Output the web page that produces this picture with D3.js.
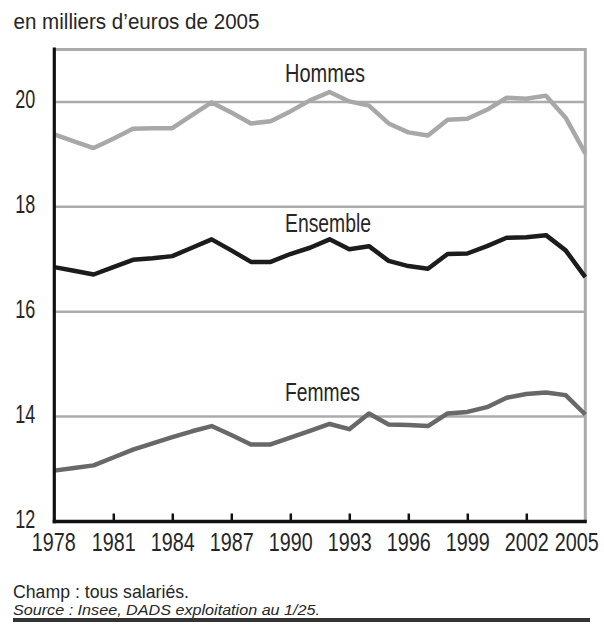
<!DOCTYPE html>
<html><head><meta charset="utf-8">
<script src="https://cdn.jsdelivr.net/npm/d3@7"></script>
<style>
body{margin:0;background:#fff;}
text{font-family:"Liberation Sans",Arial,sans-serif;fill:#262626;}
</style></head>
<body><svg id="c" width="604" height="632"></svg>
<script>
const years = d3.range(1978, 2006);
const hommes   = [19.38,19.25,19.12,19.30,19.49,19.50,19.50,19.75,19.99,19.80,19.59,19.63,19.82,20.03,20.19,20.01,19.93,19.59,19.42,19.36,19.66,19.68,19.85,20.08,20.06,20.12,19.70,19.02];
const ensemble = [16.85,16.78,16.71,16.85,16.99,17.02,17.06,17.22,17.38,17.17,16.95,16.95,17.10,17.22,17.38,17.19,17.25,16.97,16.87,16.82,17.10,17.11,17.25,17.41,17.42,17.46,17.17,16.66];
const femmes   = [12.97,13.02,13.07,13.22,13.37,13.49,13.61,13.72,13.82,13.65,13.47,13.47,13.60,13.73,13.86,13.76,14.06,13.85,13.84,13.82,14.06,14.09,14.18,14.36,14.43,14.46,14.41,14.04];
const seriesNames = ["Hommes","Ensemble","Femmes"];
const yTicks = [12,14,16,18,20];
const xTicks = [1978,1981,1984,1987,1990,1993,1996,1999,2002,2005];
const title = "en milliers d\u2019euros de 2005";
const note1 = "Champ : tous salari\u00e9s.";
const note2 = "Source : Insee, DADS exploitation au 1/25.";

const svg = d3.select("#c");
const L=54.3, R=585.3, T=49.5, B=521.5;
const x = d3.scaleLinear().domain([1978,2005]).range([L,R]);
const y = d3.scaleLinear().domain([12,21]).range([B,T]);

function fit(sel, w){ sel.attr("textLength",w).attr("lengthAdjust","spacingAndGlyphs"); return sel; }

fit(svg.append("text").attr("x",13.5).attr("y",29).style("font-size","22px").text(title),246);

// gridlines
svg.append("g").selectAll("line").data(yTicks.filter(d=>d>12)).join("line")
  .attr("x1",L).attr("x2",R).attr("y1",d=>y(d)).attr("y2",d=>y(d))
  .attr("stroke","#ababab").attr("stroke-width",2.5);
// top and right border
svg.append("path").attr("d",`M${L},${T}H${R}V${B}`).attr("fill","none")
  .attr("stroke","#ababab").attr("stroke-width",3);

// lines
const line = d3.line().x((d,i)=>x(years[i])).y(d=>y(d));
const data = [hommes, ensemble, femmes];
const colors = ["#a8a8a8","#1c1c1c","#686868"];
svg.append("g").selectAll("path").data(data).join("path")
  .attr("d",line).attr("fill","none")
  .attr("stroke",(d,i)=>colors[i]).attr("stroke-width",4.5)
  .attr("stroke-linejoin","round");

// series labels
const labelY = [82,232,400.5];
const labelW = [80,86,75];
svg.append("g").selectAll("text").data(seriesNames).join("text")
  .attr("x",285).attr("y",(d,i)=>labelY[i])
  .style("font-size","25px").text(d=>d)
  .attr("textLength",(d,i)=>labelW[i]).attr("lengthAdjust","spacingAndGlyphs");

// y axis
const ya = svg.append("g").attr("transform",`translate(${L},0)`)
  .call(d3.axisLeft(y).tickValues(yTicks).tickSize(0).tickPadding(19));
ya.select(".domain").remove();
ya.selectAll("text").style("font-size","25px").attr("fill","#262626").attr("dy","0.24em")
  .attr("textLength",20).attr("lengthAdjust","spacingAndGlyphs");
svg.append("line").attr("x1",L).attr("x2",L).attr("y1",T-2).attr("y2",B+1.7)
  .attr("stroke","#111").attr("stroke-width",3.2);

// x axis
const xa = svg.append("g").attr("transform",`translate(0,${B})`)
  .call(d3.axisBottom(x).tickValues(xTicks).tickFormat(d3.format("d")).tickSize(-8).tickPadding(12));
xa.select(".domain").remove();
xa.selectAll("line").attr("stroke","#111").attr("stroke-width",2.5);
xa.selectAll(".tick").filter(d=>d===1978||d===2005).select("line").remove();
xa.selectAll("text").style("font-size","25px").attr("fill","#262626").attr("dy","0.71em")
  .attr("transform",d=>`translate(${d===2005?-9:(d===1978?-1:0)},0) scale(0.79,1)`);
svg.append("line").attr("x1",L-1.6).attr("x2",R+1.5).attr("y1",B).attr("y2",B)
  .attr("stroke","#111").attr("stroke-width",3.5);

// notes
fit(svg.append("text").attr("x",13).attr("y",598).style("font-size","19px").text(note1),176);
fit(svg.append("text").attr("x",13).attr("y",614.5).style("font-size","15px").style("font-style","italic").text(note2),307);
svg.append("line").attr("x1",13).attr("x2",590).attr("y1",620).attr("y2",620)
  .attr("stroke","#333").attr("stroke-width",4);
</script></body></html>
